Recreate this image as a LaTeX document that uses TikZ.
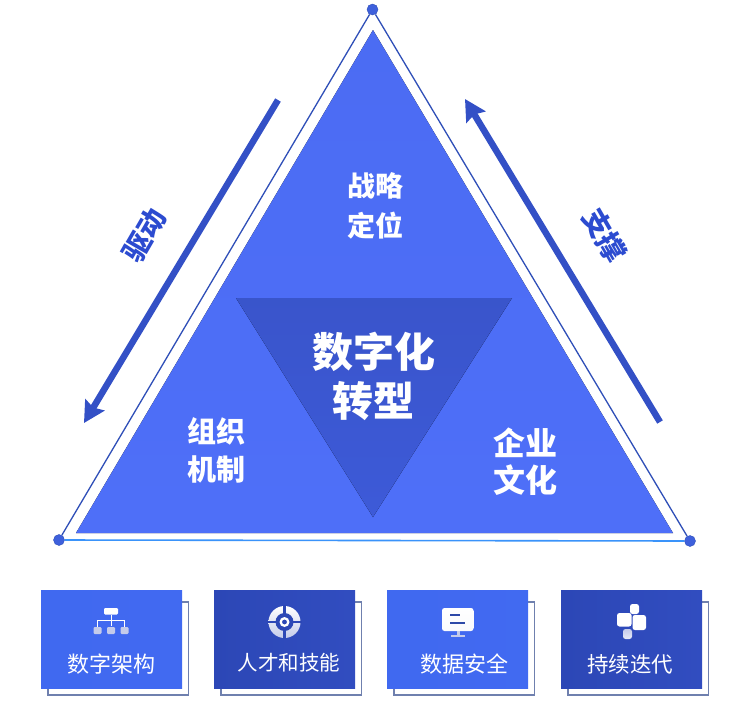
\documentclass[tikz,border=0pt]{standalone}
\usepackage{fontspec}
\setmainfont{Noto Sans CJK SC}
\usetikzlibrary{arrows.meta}
\definecolor{mainblue}{HTML}{4E6FF8}
\definecolor{midblue}{HTML}{3D5AD8}
\definecolor{arrowblue}{HTML}{3350C6}
\definecolor{textblue}{HTML}{2C4BD0}
\definecolor{deepblue}{HTML}{2C47B6}
\definecolor{boxblue}{HTML}{4069F0}
\definecolor{lineblue}{HTML}{2F4FB8}
\definecolor{dotblue}{HTML}{3E60DC}
\definecolor{shadowline}{HTML}{6F80AE}
\definecolor{iconshade}{HTML}{C4CBEA}
\tikzset{
  lbl/.style={text=white,font=\bfseries\fontsize{#1}{#1}\selectfont,align=center,inner sep=0pt},
  cardlbl/.style={text=white,font=\fontsize{#1}{#1}\selectfont,inner sep=0pt},
  sidelbl/.style={text=textblue,font=\bfseries\fontsize{28}{28}\selectfont,inner sep=0pt},
  vertex/.style={circle,fill=dotblue,draw=lineblue,line width=.4pt,minimum size=11pt,inner sep=0pt},
  bigarrow/.style={draw=arrowblue,line width=6.5pt,-{Stealth[length=21pt,width=22pt,inset=3pt]}},
  lightcard/.style={left color=boxblue,right color=boxblue!90!mainblue},
  darkcard/.style={left color=deepblue,right color=deepblue!85!mainblue},
  cardback/.style={draw=shadowline,line width=1.2pt,fill=white},
  iconw/.style={fill=white,rounded corners=1.2pt},
}
\begin{document}
\begin{tikzpicture}[x=1pt,y=-1pt]
\useasboundingbox (0,0) rectangle (750,710);
\fill[white] (0,0) rectangle (750,710);

% outer triangle
\node[vertex] (apex) at (372.5,9.5) {};
\node[vertex] (vleft) at (59,540) {};
\node[vertex] (vright) at (690,541) {};
\draw[lineblue,line width=1.3pt] (apex) -- (vright);
\draw[lineblue,line width=1.3pt] (apex) -- (vleft);
\draw[mainblue!75!cyan,line width=1.6pt] (vleft) -- (vright);

% inner triangles
\fill[top color=mainblue!92!deepblue,bottom color=mainblue] (373,30) -- (673,533) -- (76,533) -- cycle;
\fill[top color=midblue!94!black,bottom color=midblue] (236,298) -- (512,298) -- (373,517) -- cycle;

% texts
\node[lbl=28] (strategy) at (375,206) {战略\\[12pt]定位};
\node[lbl=41] (core) at (373.5,376) {数字化\\[8pt]转型};
\node[lbl=29] (org) at (216,450) {组织\\[9pt]机制};
\node[lbl=32] (culture) at (525,462) {企业\\[5pt]文化};

% side arrows
\coordinate (al1) at (278,100);
\coordinate (al2) at (84,423);
\coordinate (ar1) at (660,422);
\coordinate (ar2) at (465,99);
\draw[bigarrow] (al1) -- (al2);
\draw[bigarrow] (ar1) -- (ar2);
\node[sidelbl,rotate=60] (drive) at (144.5,235) {驱动};
\node[sidelbl,rotate=-60] (support) at (605,235.5) {支撑};

% cards
\foreach \x/\st/\n in {41/lightcard/a,214/darkcard/b,387/lightcard/c,561/darkcard/d}{
  \draw[cardback] (\x+7,602) rectangle (\x+147.5,695);
  \fill[\st] (\x,590) rectangle (\x+141,688);
}
\node[cardlbl=22] (la) at (111.5,664) {数字架构};
\node[cardlbl=20.5] (lb) at (289,663) {人才和技能};
\node[cardlbl=22] (lc) at (464,664.5) {数据安全};
\node[cardlbl=21.5] (ld) at (630,664) {持续迭代};

% icon 1
\fill[iconw,fill=white] (104,608) rectangle (118,614.5);
\draw[white,line width=.9pt] (111,614.5) -- (111,626) (97.5,627) -- (97.5,620.5) -- (124.5,620.5) -- (124.5,627);
\foreach \x in {93.5,107,120.5}
  \fill[iconw,fill=iconshade] (\x,627) rectangle (\x+8,634);

% icon 2
\shade[top color=white,bottom color=iconshade] (284.5,622) circle (16);
\fill[deepblue] (284.5,622) circle (9);
\draw[deepblue,line width=2.4pt] (267,622) -- (276,622) (293,622) -- (302,622) (284.5,630.5) -- (284.5,639) (284.5,605) -- (284.5,613.5);
\fill[white] (284.5,622) circle (5);
\fill[deepblue] (284.5,622) circle (2.4);

% icon 3
\shade[top color=white,bottom color=white!90!iconshade,rounded corners=2.5pt] (442,608) rectangle (473.5,631);
\fill[boxblue!70!black] (450,614) rectangle (460,616);
\fill[boxblue!70!black] (450,622) rectangle (465,624);
\fill[iconshade] (456.5,631) rectangle (459.5,635);
\fill[iconshade] (451,635) rectangle (465,636.5);

% icon 4
\fill[iconw,rounded corners=2.5pt] (630,604) rectangle (639,614);
\fill[iconw,rounded corners=2.5pt] (617,613) rectangle (631.5,626.5);
\fill[iconw,rounded corners=2.5pt] (632.5,615) rectangle (646,630);
\shade[top color=iconshade,bottom color=white!60!iconshade,rounded corners=2.5pt] (623,629) rectangle (632,639);
\end{tikzpicture}
\end{document}
